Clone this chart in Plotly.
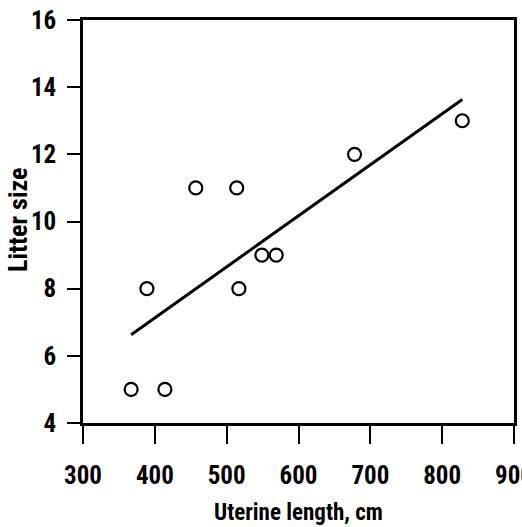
import plotly.graph_objects as go

# Data
uterine_length = [367, 414, 389, 457, 514, 517, 549, 569, 678, 828]
litter_size = [5, 5, 8, 11, 11, 8, 9, 9, 12, 13]

# Regression line endpoints
fit_x = [367, 828]
fit_y = [6.63, 13.63]

x_ticks = [300, 400, 500, 600, 700, 800, 900]
y_ticks = [4, 6, 8, 10, 12, 14, 16]

x_title = "Uterine length, cm"
y_title = "Litter size"

FONT = "Liberation Sans Narrow, Arial Narrow, Roboto Condensed, Liberation Sans, sans-serif"

fig = go.Figure()
fig.add_trace(go.Scatter(
    x=fit_x, y=fit_y, mode="lines",
    line=dict(color="black", width=3), showlegend=False, hoverinfo="skip"))
fig.add_trace(go.Scatter(
    x=uterine_length, y=litter_size, mode="markers",
    marker=dict(symbol="circle-open", size=13, color="black", line=dict(width=2.2)),
    showlegend=False))

fig.update_layout(
    width=522, height=527,
    margin=dict(l=83, r=8, t=20, b=104, autoexpand=False),
    paper_bgcolor="white", plot_bgcolor="white",
    font=dict(family=FONT, size=22, color="black"),
    xaxis=dict(
        range=[300, 900], tickvals=x_ticks, ticktext=[str(v) for v in x_ticks],
        showgrid=False, zeroline=False, automargin=False,
        showline=True, linecolor="black", linewidth=2.5, mirror=True,
        ticks="outside", ticklen=18, tickwidth=2, tickcolor="black",
        tickfont=dict(family=FONT, size=25, color="black", weight="bold"),
        ticklabelstandoff=10, ticklabeloverflow="allow",
    ),
    yaxis=dict(
        range=[4, 16], tickvals=y_ticks, ticktext=[str(v) for v in y_ticks],
        showgrid=False, zeroline=False, automargin=False,
        showline=True, linecolor="black", linewidth=2.5, mirror=True,
        ticks="outside", ticklen=13, tickwidth=2, tickcolor="black",
        tickfont=dict(family=FONT, size=25, color="black", weight="bold"),
        ticklabelstandoff=6, ticklabeloverflow="allow",
    ),
    annotations=[
        dict(text="<b>" + x_title + "</b>", xref="paper", yref="paper",
             x=0.499, y=0, xanchor="center", yanchor="middle", yshift=-89,
             showarrow=False, font=dict(family=FONT, size=23, color="black")),
        dict(text="<b>" + y_title + "</b>", xref="paper", yref="paper",
             x=0, y=0.504, xanchor="center", yanchor="middle", xshift=-65,
             textangle=-90, showarrow=False,
             font=dict(family=FONT, size=26, color="black")),
    ],
)

fig.write_html(
    "out.html",
    config={"displayModeBar": False},
    post_script="document.body.style.margin='0';document.body.style.padding='0';",
)
